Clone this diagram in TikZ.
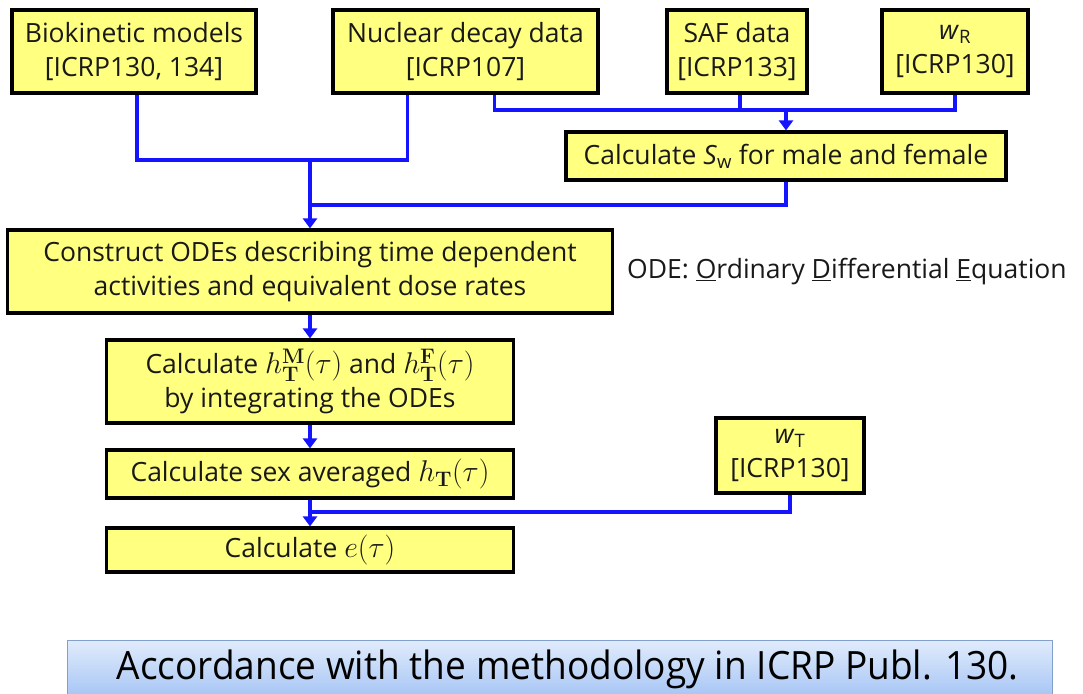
\RequirePackage{fix-cm}
\documentclass[tikz,border=0pt]{standalone}
\usepackage[no-math]{fontspec}
\setmainfont{Open Sans}
\newfontfamily\banfont[FakeStretch=0.95]{Open Sans}
\usetikzlibrary{arrows.meta}
\definecolor{boxyellow}{RGB}{255,255,128}
\definecolor{textdark}{RGB}{25,25,25}
\definecolor{lineblue}{RGB}{20,20,255}
\definecolor{bantop}{RGB}{225,236,252}
\definecolor{banbot}{RGB}{165,196,244}
\definecolor{banedge}{RGB}{130,160,205}
\newcommand{\mymath}[1]{{\fontsize{30}{34}\selectfont$#1$}}
\begin{document}
\begin{tikzpicture}[x=1pt,y=-1pt,
  font=\fontsize{26.5}{34}\selectfont,
  box/.style={draw=black, line width=3.2pt, fill=boxyellow, text=textdark, align=center, inner sep=0pt},
  line/.style={draw=lineblue, line width=3.2pt},
  arr/.style={line, -{Triangle[length=10pt,width=14pt]}}]
\useasboundingbox (0,0) rectangle (1083,693);
% top row
\node[box, minimum width=244pt, minimum height=83pt] (bio) at (134,51.5) {Biokinetic models\\{}[ICRP130, 134]};
\node[box, minimum width=265pt, minimum height=83pt] (nuc) at (465.5,51.5) {Nuclear decay data\\{}[ICRP107]};
\node[box, minimum width=140pt, minimum height=83pt] (saf) at (737,51.5) {SAF data\\{}[ICRP133]};
\node[box, minimum width=146pt, minimum height=83pt] (wr) at (955,51.5) {\textit{w}\textsubscript{R}\\{}[ICRP130]};
\node[box, minimum width=440pt, minimum height=48pt] (sw) at (786,156) {Calculate \textit{S}\textsubscript{w} for male and female};
% main column
\node[box, minimum width=605pt, minimum height=83pt] (ode) at (310,271.5) {Construct ODEs describing time dependent\\activities and equivalent dose rates};
\node[anchor=west, text=textdark, inner sep=0pt] (note) at (627,272) {ODE: \underline{O}rdinary \underline{D}ifferential \underline{E}quation};
\node[box, minimum width=407pt, minimum height=83pt] (hmf) at (310,381.5) {Calculate \mymath{h_{\mathbf{T}}^{\mathbf{M}}(\tau)} and \mymath{h_{\mathbf{T}}^{\mathbf{F}}(\tau)}\\by integrating the ODEs};
\node[box, minimum width=407pt, minimum height=48pt] (sex) at (310,474) {Calculate sex averaged \mymath{h_{\mathbf{T}}(\tau)}};
\node[box, minimum width=148pt, minimum height=75pt] (wt) at (790,455.5) {\textit{w}\textsubscript{T}\\{}[ICRP130]};
\node[box, minimum width=407pt, minimum height=44pt] (e) at (310,550) {Calculate \mymath{e(\tau)}};
% banner
\node[draw=banedge, line width=0.8pt, top color=bantop, bottom color=banbot, minimum width=985pt, minimum height=58pt, inner sep=0pt, text=black, font=\banfont\fontsize{39}{44}\selectfont] (ban) at (559.5,669) {\hspace*{16pt}Accordance with the methodology in ICRP Publ. 130.};
% junctions
\coordinate (j1) at (310,160);
\coordinate (j2) at (310,205);
\coordinate (j3) at (786,110);
\coordinate (j4) at (310,512);
% connectors
\draw[line] ([xshift=3pt]bio.south) |- (j1);
\draw[line] ([xshift=-58pt]nuc.south) |- (j1);
\draw[line] ([xshift=29pt]nuc.south) |- (j3) -| (wr.south);
\draw[line] ([xshift=3pt]saf.south) |- (j3);
\draw[arr] (j3) -- (sw.north);
\draw[line] (sw.south) |- (j2);
\draw[arr] (j1) -- (ode.north);
\draw[arr] (ode.south) -- (hmf.north);
\draw[arr] (hmf.south) -- (sex.north);
\draw[arr] (sex.south) -- (e.north);
\draw[line] (wt.south) |- (j4);
\end{tikzpicture}
\end{document}
